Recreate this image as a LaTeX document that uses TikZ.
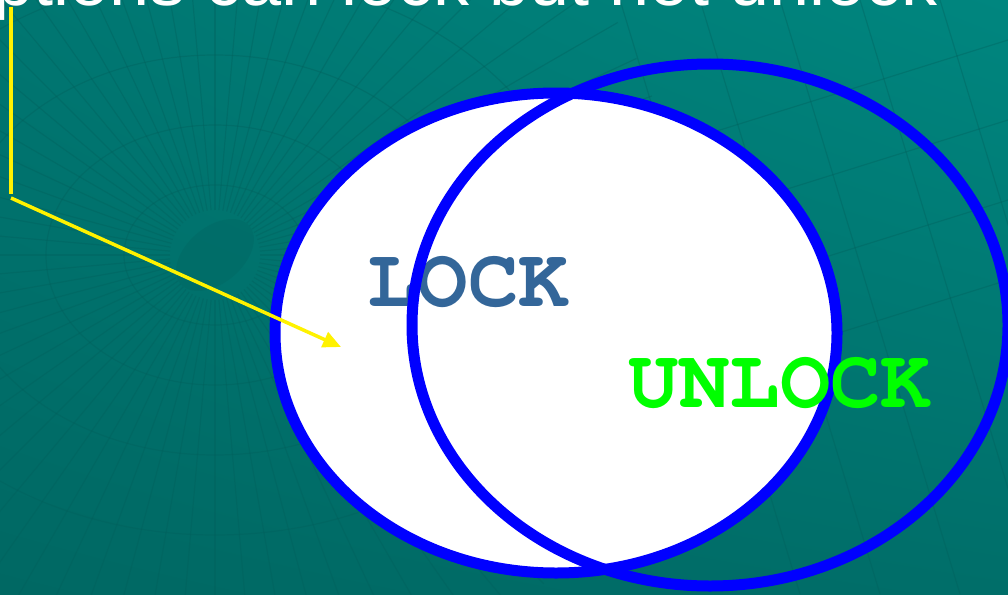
\documentclass[tikz,border=0pt]{standalone}
\usepackage{fontspec}
\usetikzlibrary{arrows.meta,shadings}
\newfontfamily\topfont{Liberation Sans}
\newfontfamily\lockfont{texgyrecursor-bold.otf}
\definecolor{ringblue}{HTML}{0000FF}
\definecolor{lockblue}{HTML}{336699}
\definecolor{unlockgreen}{HTML}{00FF00}
\definecolor{gridteal}{HTML}{005F5B}
\definecolor{bgul}{RGB}{0,118,113}
\definecolor{bgur}{RGB}{0,134,127}
\definecolor{bgll}{RGB}{0,104,99}
\definecolor{bglr}{RGB}{0,110,105}
\tikzset{
    ring/.style={draw=ringblue, line width=11pt},
    pointer/.style={draw=yellow, line width=3.5pt},
    bigword/.style={anchor=base, inner sep=0pt, font=\lockfont\fontsize{84}{90}\selectfont}
}
\begin{document}
\begin{tikzpicture}[x=1pt, y=-1pt]
    \clip (0,0) rectangle (1008,594);
    \shade[upper left=bgul, upper right=bgur, lower left=bgll, lower right=bglr]
        (0,0) rectangle (1008,594);
    % faint background grid
    \foreach \a in {0,5,...,355}
        \draw[gridteal, opacity=0.35, line width=1.2pt] (215,255) ++(\a:45) -- ++(\a:420);
    \foreach \r in {70,130,200,280}
        \draw[gridteal, opacity=0.35, line width=1.2pt] (215,255) ellipse ({1.3*\r} and \r);
    \fill[gridteal, opacity=0.25, rotate around={-50:(215,255)}] (215,255) ellipse (28 and 45);
    \foreach \x in {620,700,780,860,940}
        \draw[gridteal, opacity=0.35, line width=1.2pt] (\x,0) -- (\x+180,594);
    \foreach \y in {40,120,200,280}
        \draw[gridteal, opacity=0.35, line width=1.2pt] (560,\y+140) -- (1008,\y);

    \node[anchor=base east, inner sep=0pt, text=white, font=\topfont\fontsize{72}{80}\selectfont]
        (caption) at (938,6) {ptions can lock but not unlock};

    \draw[ring, fill=white] (556,333) ellipse (281 and 240);
    \node[bigword, text=lockblue] (lock) at (468,306) {LOCK};
    \draw[ring] (710,325) ellipse (298 and 261);
    \node[bigword, text=unlockgreen] (unlock) at (780,407) {UNLOCK};

    \coordinate (start) at (11,7);
    \coordinate (bend) at (11,194);
    \coordinate (from) at (11,198);
    \coordinate (tip) at (341,347);
    \draw[pointer] (start) -- (bend);
    \draw[pointer, -{Triangle[length=18pt, width=16pt]}] (from) -- (tip);
\end{tikzpicture}
\end{document}
